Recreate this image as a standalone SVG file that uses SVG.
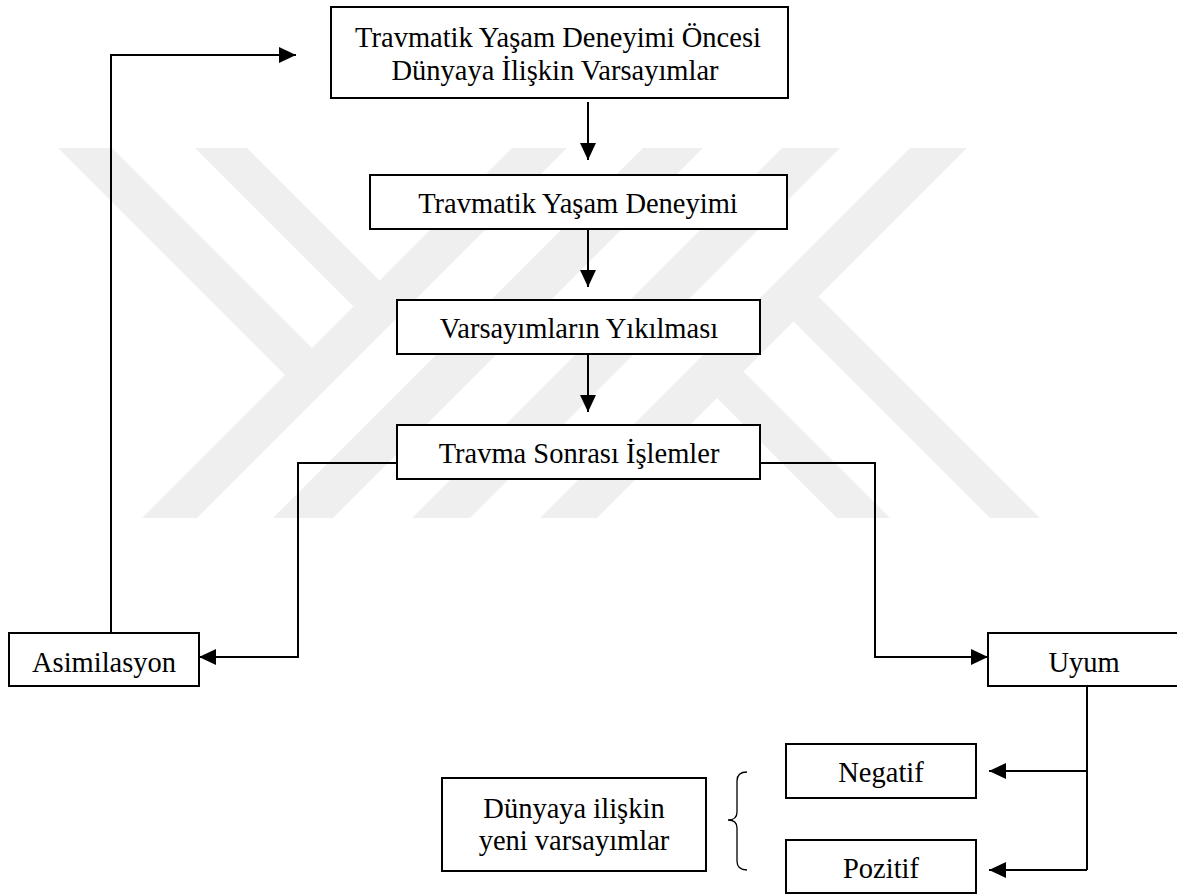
<svg xmlns="http://www.w3.org/2000/svg" width="1177" height="894" viewBox="0 0 1177 894">
<style>
.box{fill:#fff;stroke:#000;stroke-width:2}
.lbl{font-family:"Liberation Serif","Times New Roman",serif;font-size:28.5px;fill:#000;text-anchor:middle}
.con{fill:none;stroke:#000;stroke-width:2}
.wm{fill:#efefef}
</style>
<defs>
<marker id="arr" markerUnits="userSpaceOnUse" markerWidth="17" markerHeight="16" refX="17" refY="8" orient="auto">
<path d="M0,0 L17,8 L0,16 z" fill="#000"/>
</marker>
</defs>
<rect width="1177" height="894" fill="#fff"/>
<g id="watermark">
<polygon class="wm" points="58,148 112,148 312,348 285,375"/>
<polygon class="wm" points="195,148 247,148 379.5,280.5 353.5,306.5"/>
<polygon class="wm" points="512,148 567,148 197,518 142,518"/>
<polygon class="wm" points="643,148 703,148 333,518 273,518"/>
<polygon class="wm" points="782,148 840,148 470,518 412,518"/>
<polygon class="wm" points="910,148 967,148 597,518 540,518"/>
<polygon class="wm" points="793.5,321.5 818.5,296.5 1040,518 990,518"/>
<polygon class="wm" points="717,398 743.5,371.5 890,518 837,518"/>
</g>
<g id="connectors">
<path class="con" d="M111,633 L111,55 L296,55" marker-end="url(#arr)"/>
<path class="con" d="M588,102 L588,160" marker-end="url(#arr)"/>
<path class="con" d="M588,229 L588,287" marker-end="url(#arr)"/>
<path class="con" d="M588,354 L588,412" marker-end="url(#arr)"/>
<path class="con" d="M397,463 L298,463 L298,657 L199,657" marker-end="url(#arr)"/>
<path class="con" d="M760,463 L875,463 L875,657 L988,657" marker-end="url(#arr)"/>
<path class="con" d="M1087,686 L1087,870"/>
<path class="con" d="M1087,771 L989,771" marker-end="url(#arr)"/>
<path class="con" d="M1087,870 L989,870" marker-end="url(#arr)"/>
</g>
<g id="n1">
<rect class="box" x="331" y="7" width="457" height="91"/>
<text class="lbl" x="558" y="47">Travmatik Yaşam Deneyimi Öncesi</text>
<text class="lbl" x="555" y="80">Dünyaya İlişkin Varsayımlar</text>
</g>
<g id="n2">
<rect class="box" x="370" y="175" width="417" height="54"/>
<text class="lbl" x="578" y="213">Travmatik Yaşam Deneyimi</text>
</g>
<g id="n3">
<rect class="box" x="397" y="300" width="363" height="54"/>
<text class="lbl" x="579" y="338">Varsayımların Yıkılması</text>
</g>
<g id="n4">
<rect class="box" x="397" y="425" width="363" height="54"/>
<text class="lbl" x="579" y="463">Travma Sonrası İşlemler</text>
</g>
<g id="n5">
<rect class="box" x="9" y="633" width="190" height="53"/>
<text class="lbl" x="104" y="672">Asimilasyon</text>
</g>
<g id="n6">
<rect class="box" x="988" y="633" width="195" height="53"/>
<text class="lbl" x="1084" y="672">Uyum</text>
</g>
<g id="n7">
<rect class="box" x="786" y="744" width="190" height="54"/>
<text class="lbl" x="881" y="782">Negatif</text>
</g>
<g id="n8">
<rect class="box" x="786" y="840" width="190" height="53"/>
<text class="lbl" x="881" y="878">Pozitif</text>
</g>
<g id="n9">
<rect class="box" x="442" y="778" width="264" height="93"/>
<text class="lbl" x="574" y="818">Dünyaya ilişkin</text>
<text class="lbl" x="574" y="850">yeni varsayımlar</text>
</g>
<g id="brace">
<path d="M747,772 C740,772 737,775 737,781 L737,812 C737,817 734,820 728,820 C734,820 737,823 737,828 L737,861 C737,867 740,870 747,870" fill="none" stroke="#000" stroke-width="1.3"/>
</g>
</svg>
